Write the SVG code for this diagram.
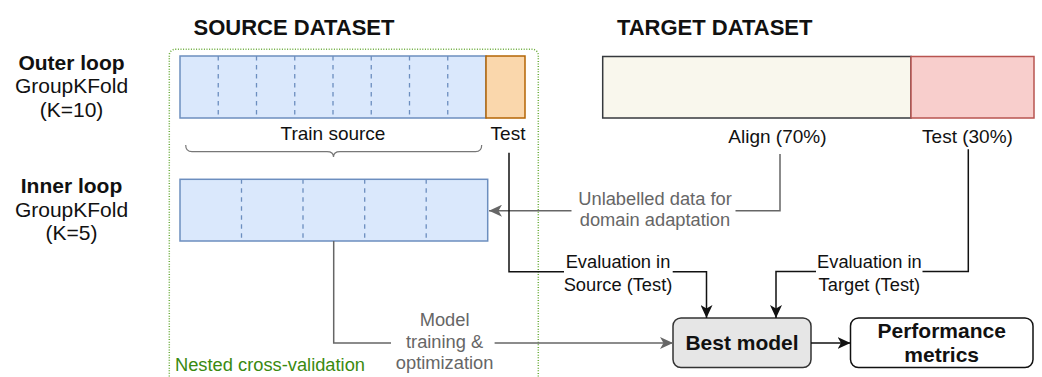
<svg xmlns="http://www.w3.org/2000/svg" width="1042" height="377" viewBox="0 0 1042 377">
<defs>
<style>
text{font-family:"Liberation Sans",Arial,Helvetica,sans-serif;fill:#111}
.h{font-size:22px;font-weight:bold}
.side{font-size:21px;text-anchor:middle}
.b{font-weight:bold}
.lbl{font-size:19px;text-anchor:middle}
.el{font-size:18.3px;text-anchor:middle}
.gray{fill:#666}
.blue{fill:#dae8fc;stroke:#6c8ebf;stroke-width:1.5}
.div{stroke:#6c8ebf;stroke-width:1.3;stroke-dasharray:4.5 4.5;fill:none}
.ck{fill:none;stroke:#111;stroke-width:1.5}
.cg{fill:none;stroke:#666;stroke-width:1.5}
</style>
<marker id="ak" markerUnits="userSpaceOnUse" markerWidth="13" markerHeight="12" refX="13" refY="6" orient="auto">
<path d="M0,0 L13,6 L0,12 L3.5,6 Z" fill="#111"/>
</marker>
<marker id="ag" markerUnits="userSpaceOnUse" markerWidth="13" markerHeight="12" refX="13" refY="6" orient="auto">
<path d="M0,0 L13,6 L0,12 L3.5,6 Z" fill="#666"/>
</marker>
</defs>
<rect width="1042" height="377" fill="#fff"/>

<g id="headings">
<text class="h" x="294" y="35" text-anchor="middle">SOURCE DATASET</text>
<text class="h" x="714.7" y="35" text-anchor="middle">TARGET DATASET</text>
</g>

<g id="outer-label">
<text class="side b" x="71.5" y="70">Outer loop</text>
<text class="side" x="71.5" y="93.3">GroupKFold</text>
<text class="side" x="71.5" y="116.6">(K=10)</text>
</g>
<g id="inner-label">
<text class="side b" x="71.5" y="193.3">Inner loop</text>
<text class="side" x="71.5" y="216.7">GroupKFold</text>
<text class="side" x="71.5" y="240">(K=5)</text>
</g>

<g id="nested-cv">
<rect x="169.3" y="49.3" width="369" height="340" rx="6" fill="none" stroke="#6aac3a" stroke-width="1.5" stroke-dasharray="1 1.6"/>
<text x="175" y="371" style="font-size:18.3px;fill:#3a8a10">Nested cross-validation</text>
</g>

<g id="outer-bar">
<rect class="blue" x="180" y="56" width="306" height="62"/>
<path class="div" d="M218.25,56V118M256.5,56V118M294.75,56V118M333,56V118M371.25,56V118M409.5,56V118M447.75,56V118"/>
<text class="lbl" x="333" y="140">Train source</text>
<path d="M185.7,145 Q185.7,151.7 192,151.7 L327,151.7 Q333.5,151.7 333.5,157 Q333.5,151.7 340,151.7 L475.5,151.7 Q481.7,151.7 481.7,145" fill="none" stroke="#777" stroke-width="1.2"/>
</g>
<g id="source-test">
<rect x="486" y="56" width="39" height="62" fill="#fad7ac" stroke="#b46504" stroke-width="1.5"/>
<text class="lbl" x="508" y="140">Test</text>
</g>

<g id="inner-bar">
<rect class="blue" x="180" y="179.3" width="307.7" height="61.7"/>
<path class="div" d="M241.5,179.3V241M303,179.3V241M364.7,179.3V241M426.2,179.3V241"/>
</g>

<g id="target-align">
<rect x="602.7" y="56.5" width="308.3" height="61.5" fill="#f9f7ed" stroke="#36393d" stroke-width="1.5"/>
<text class="lbl" x="777.4" y="142.5">Align (70%)</text>
</g>
<g id="target-test">
<rect x="911" y="56.5" width="123" height="61.5" fill="#f8cecc" stroke="#b85450" stroke-width="1.5"/>
<text class="lbl" x="967.5" y="142.5">Test (30%)</text>
</g>

<g id="best-model">
<rect x="673" y="318" width="138" height="49.5" rx="8" fill="#e6e6e6" stroke="#333" stroke-width="1.5"/>
<text x="742" y="349.5" text-anchor="middle" class="b" style="font-size:21px">Best model</text>
</g>
<g id="performance">
<rect x="850.5" y="318" width="182.5" height="49.5" rx="8" fill="#fff" stroke="#111" stroke-width="1.5"/>
<text x="941.7" y="337.5" text-anchor="middle" class="b" style="font-size:21px">Performance</text>
<text x="941.7" y="362" text-anchor="middle" class="b" style="font-size:21px">metrics</text>
</g>

<g id="connectors">
<path class="cg" d="M780,154 V210.7 H735.5"/>
<path class="cg" d="M571.5,210.7 H489" marker-end="url(#ag)"/>
<text class="el gray" x="655" y="205">Unlabelled data for</text>
<text class="el gray" x="655" y="225.5">domain adaptation</text>

<path class="ck" d="M509,152.7 V271.7 H564"/>
<path class="ck" d="M672.7,271.7 H706.5 V318" marker-end="url(#ak)"/>
<text class="el" x="618" y="268.3">Evaluation in</text>
<text class="el" x="618" y="290.7">Source (Test)</text>

<path class="ck" d="M968.3,149.3 V271.5 H922.5"/>
<path class="ck" d="M816,271.5 H776 V318" marker-end="url(#ak)"/>
<text class="el" x="869.4" y="268.3">Evaluation in</text>
<text class="el" x="869.4" y="290.7">Target (Test)</text>

<path class="cg" d="M333.7,241 V343 H391"/>
<path class="cg" d="M494.6,343 H673" marker-end="url(#ag)"/>
<text class="el gray" x="444.6" y="326">Model</text>
<text class="el gray" x="444.6" y="347.5">training &amp;</text>
<text class="el gray" x="444.6" y="369">optimization</text>

<path class="ck" d="M811,343 H850.5" marker-end="url(#ak)"/>
</g>
</svg>
